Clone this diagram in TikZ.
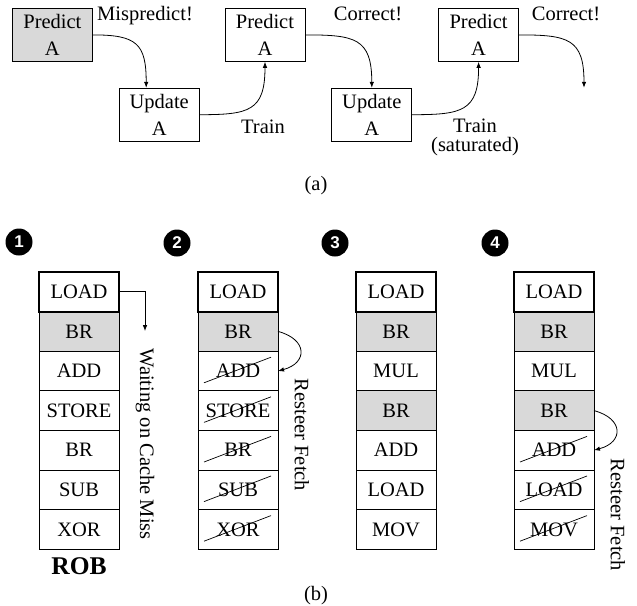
\documentclass[tikz,border=0pt]{standalone}
\usepackage{fontspec}
\setmainfont{Liberation Serif}
\setsansfont{Liberation Sans}
\usepackage{tikz}
\usetikzlibrary{arrows.meta,positioning}
\definecolor{shade}{HTML}{D9D9D9}
\newcommand\crossout[1]{\draw[line width=0.7pt] ([shift={(6,8)}]#1.south west)--([shift={(-7,-6)}]#1.north east);}

\begin{document}
\begin{tikzpicture}[x=1pt,y=1pt,font=\fontsize{20.5}{27}\selectfont,node distance=26pt and 26pt,
  abox/.style={draw,line width=0.8pt,minimum width=80pt,minimum height=53pt,inner sep=0pt,align=center},
  cell/.style={draw,line width=0.8pt,minimum width=80pt,minimum height=39.6pt,inner sep=0pt,outer sep=0pt},
  headcell/.style={cell,line width=2pt},brcell/.style={cell,fill=shade},
  arr/.style={-{Latex[length=6pt,width=4.5pt]},line width=0.8pt},
  num/.style={circle,fill=black,text=white,inner sep=0pt,minimum size=27pt,font=\sffamily\bfseries\fontsize{17}{17}\selectfont},
  lbl/.style={inner sep=0pt}]
\useasboundingbox (0,0) rectangle (637,-605);
% (a) predictor training
\node[abox,fill=shade,anchor=north west] (p1) at (12,-8) {Predict\\A};
\node[abox,below right=of p1] (u1) {Update\\A};
\node[abox,above right=26pt and 25pt of u1] (p2) {Predict\\A};
\node[abox,below right=of p2] (u2) {Update\\A};
\node[abox,above right=of u2] (p3) {Predict\\A};
\coordinate[below right=26pt and 65pt of p3] (p4);
\draw[arr] (p1.east) to[out=0,in=90,looseness=1.5] ([xshift=-13pt]u1.north);
\draw[arr] (u1.east) to[out=0,in=-90,looseness=1.5] (p2.south);
\draw[arr] (p2.east) to[out=0,in=90,looseness=1.5] (u2.north);
\draw[arr] (u2.east) to[out=0,in=-90,looseness=1.5] (p3.south);
\draw[arr] (p3.east) to[out=0,in=90,looseness=1.5] (p4);
\node[lbl,anchor=base] (mis) at (145,-20) {Mispredict!};
\node[lbl,anchor=base] (ok1) at (368,-20) {Correct!};
\node[lbl,anchor=base] (ok2) at (566,-20) {Correct!};
\node[lbl,anchor=base] (tr1) at (263,-133) {Train};
\node[lbl,anchor=north,align=center,font=\fontsize{20.5}{19}\selectfont] (tr2) at (475,-119) {Train\\(saturated)};
\node[lbl,anchor=base] (capa) at (316,-190) {(a)};
% (b) ROB snapshots
\node[num] (n1) at (19,-242) {1};
\node[num] (n2) at (177,-243) {2};
\node[num] (n3) at (335,-243) {3};
\node[num] (n4) at (495,-243) {4};
\node[headcell,anchor=north west] (a1) at (39,-272) {LOAD};
\node[brcell,below=0pt of a1] (a2) {BR};\node[cell,below=0pt of a2] (a3) {ADD};
\node[cell,below=0pt of a3] (a4) {STORE};\node[cell,below=0pt of a4] (a5) {BR};
\node[cell,below=0pt of a5] (a6) {SUB};\node[cell,below=0pt of a6] (a7) {XOR};
\node[headcell,anchor=north west] (b1) at (198,-272) {LOAD};
\node[brcell,below=0pt of b1] (b2) {BR};\node[cell,below=0pt of b2] (b3) {ADD};
\node[cell,below=0pt of b3] (b4) {STORE};\node[cell,below=0pt of b4] (b5) {BR};
\node[cell,below=0pt of b5] (b6) {SUB};\node[cell,below=0pt of b6] (b7) {XOR};
\node[headcell,anchor=north west] (c1) at (356,-272) {LOAD};
\node[brcell,below=0pt of c1] (c2) {BR};\node[cell,below=0pt of c2] (c3) {MUL};
\node[brcell,below=0pt of c3] (c4) {BR};\node[cell,below=0pt of c4] (c5) {ADD};
\node[cell,below=0pt of c5] (c6) {LOAD};\node[cell,below=0pt of c6] (c7) {MOV};
\node[headcell,anchor=north west] (d1) at (514,-272) {LOAD};
\node[brcell,below=0pt of d1] (d2) {BR};\node[cell,below=0pt of d2] (d3) {MUL};
\node[brcell,below=0pt of d3] (d4) {BR};\node[cell,below=0pt of d4] (d5) {ADD};
\node[cell,below=0pt of d5] (d6) {LOAD};\node[cell,below=0pt of d6] (d7) {MOV};
\foreach \c in {a1,b1,c1,d1} \draw[line width=2pt] (\c.north west) rectangle (\c.south east);
\crossout{b3}\crossout{b4}\crossout{b5}\crossout{b6}\crossout{b7}
\crossout{d5}\crossout{d6}\crossout{d7}
\node[lbl,rotate=-90] (wait) at (145,-444) {Waiting on Cache Miss};
\draw[arr] (a1.east) -| ([yshift=17pt]wait.west);
\node[lbl,rotate=-90] (rf1) at (302,-435) {Resteer Fetch};
\draw[arr] (b2.east) to[out=-15,in=15,looseness=2] (b3.east);
\node[lbl,rotate=-90] (rf2) at (618,-515) {Resteer Fetch};
\draw[arr] (d4.east) to[out=-15,in=15,looseness=2] (d5.east);
\node[lbl,anchor=base,font=\bfseries\fontsize{25.5}{30}\selectfont] (rob) at (79,-574) {ROB};
\node[lbl,anchor=base] (capb) at (316,-600) {(b)};
\end{tikzpicture}
\end{document}
